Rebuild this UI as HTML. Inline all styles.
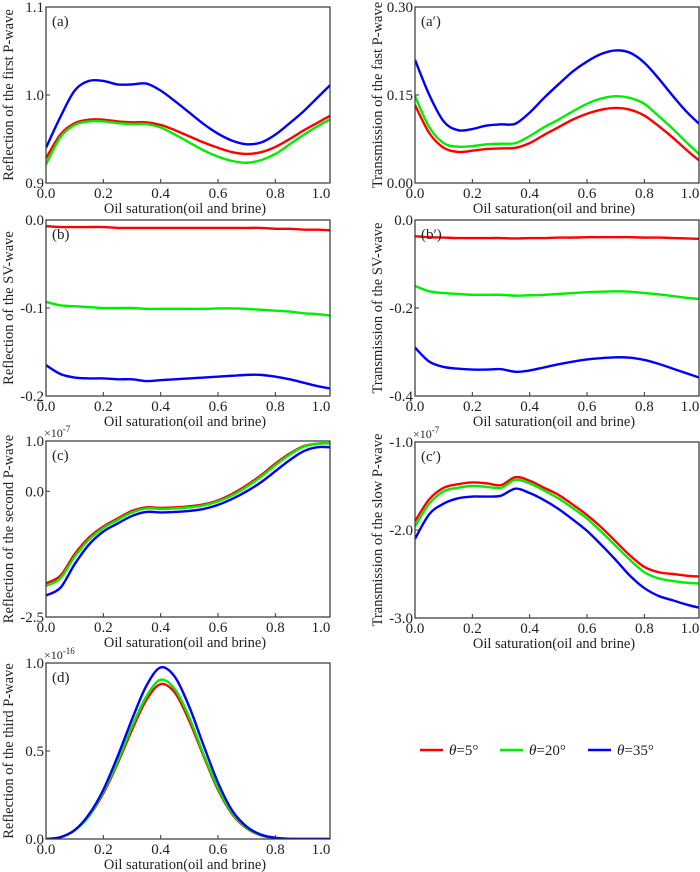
<!DOCTYPE html>
<html><head><meta charset="utf-8"><style>
body{margin:0;background:#fff;}
svg{display:block;font-family:"Liberation Serif",serif;}
</style></head><body>
<svg id="fig" width="700" height="872" viewBox="0 0 700 872"></svg>
<script>
const xVals=[0,0.05,0.1,0.15,0.2,0.25,0.3,0.35,0.4,0.45,0.5,0.55,0.6,0.65,0.7,0.75,0.8,0.85,0.9,0.95,1.0];
const xTicks=[0,0.2,0.4,0.6,0.8,1.0];
const xTickLabels=["0.0","0.2","0.4","0.6","0.8","1.0"];

const aRed=[0.928,0.955,0.968,0.972,0.972,0.970,0.969,0.969,0.966,0.960,0.953,0.946,0.940,0.935,0.933,0.935,0.941,0.950,0.960,0.969,0.978];
const aGreen=[0.921,0.952,0.966,0.970,0.970,0.968,0.967,0.967,0.963,0.955,0.946,0.937,0.930,0.925,0.923,0.926,0.933,0.944,0.955,0.965,0.974];
const aBlue=[0.940,0.975,1.005,1.016,1.016,1.012,1.012,1.013,1.005,0.993,0.980,0.967,0.956,0.948,0.944,0.946,0.955,0.968,0.982,0.998,1.014];
const aTicks=[0.9,1.0,1.1]; const aTickLabels=["0.9","1.0","1.1"];

const apRed=[0.133,0.085,0.060,0.053,0.055,0.058,0.059,0.060,0.068,0.082,0.095,0.108,0.118,0.125,0.128,0.125,0.115,0.097,0.077,0.055,0.035];
const apGreen=[0.148,0.095,0.068,0.062,0.063,0.066,0.067,0.068,0.080,0.095,0.108,0.122,0.135,0.144,0.148,0.145,0.135,0.114,0.092,0.068,0.045];
const apBlue=[0.210,0.150,0.105,0.090,0.092,0.098,0.100,0.101,0.120,0.145,0.168,0.190,0.207,0.220,0.226,0.222,0.205,0.178,0.148,0.120,0.097];
const apTicks=[0,0.15,0.30]; const apTickLabels=["0.00","0.15","0.30"];

const bRed=[-0.007,-0.008,-0.008,-0.008,-0.008,-0.009,-0.009,-0.009,-0.009,-0.009,-0.009,-0.009,-0.009,-0.009,-0.009,-0.009,-0.010,-0.010,-0.011,-0.011,-0.012];
const bGreen=[-0.093,-0.097,-0.098,-0.099,-0.100,-0.100,-0.100,-0.101,-0.101,-0.101,-0.101,-0.101,-0.1005,-0.1005,-0.101,-0.102,-0.103,-0.104,-0.106,-0.107,-0.109];
const bBlue=[-0.165,-0.175,-0.179,-0.180,-0.180,-0.181,-0.181,-0.183,-0.182,-0.181,-0.180,-0.179,-0.178,-0.177,-0.176,-0.176,-0.178,-0.181,-0.185,-0.189,-0.192];
const bTicks=[-0.2,-0.1,0]; const bTickLabels=["-0.2","-0.1","0.0"];

const bpRed=[-0.037,-0.039,-0.040,-0.041,-0.041,-0.041,-0.041,-0.042,-0.041,-0.041,-0.040,-0.040,-0.039,-0.039,-0.039,-0.039,-0.040,-0.040,-0.041,-0.042,-0.043];
const bpGreen=[-0.150,-0.162,-0.166,-0.168,-0.170,-0.170,-0.170,-0.172,-0.171,-0.170,-0.168,-0.166,-0.164,-0.163,-0.162,-0.163,-0.166,-0.169,-0.173,-0.177,-0.180];
const bpBlue=[-0.290,-0.322,-0.334,-0.338,-0.340,-0.340,-0.339,-0.345,-0.342,-0.335,-0.328,-0.322,-0.317,-0.314,-0.312,-0.313,-0.318,-0.327,-0.338,-0.349,-0.360];
const bpTicks=[-0.4,-0.2,0]; const bpTickLabels=["-0.4","-0.2","0.0"];

const cRed=[-1.83,-1.68,-1.25,-0.92,-0.70,-0.54,-0.39,-0.32,-0.33,-0.32,-0.30,-0.26,-0.18,-0.05,0.12,0.32,0.55,0.75,0.90,0.95,0.95];
const cGreen=[-1.88,-1.73,-1.30,-0.96,-0.73,-0.57,-0.42,-0.34,-0.35,-0.34,-0.32,-0.28,-0.20,-0.08,0.09,0.29,0.52,0.73,0.89,0.95,0.95];
const cBlue=[-2.07,-1.92,-1.45,-1.06,-0.80,-0.64,-0.49,-0.41,-0.42,-0.41,-0.39,-0.35,-0.27,-0.15,0.00,0.18,0.40,0.62,0.80,0.88,0.87];
const cTicks=[-2.5,0,1.0]; const cTickLabels=["-2.5","0.0","1.0"];

const cpRed=[-1.90,-1.65,-1.52,-1.48,-1.46,-1.47,-1.49,-1.40,-1.44,-1.52,-1.60,-1.71,-1.83,-1.97,-2.13,-2.29,-2.42,-2.48,-2.50,-2.52,-2.53];
const cpGreen=[-1.96,-1.70,-1.56,-1.52,-1.50,-1.51,-1.52,-1.43,-1.47,-1.55,-1.64,-1.75,-1.87,-2.02,-2.18,-2.34,-2.48,-2.55,-2.58,-2.60,-2.61];
const cpBlue=[-2.10,-1.82,-1.70,-1.64,-1.62,-1.62,-1.61,-1.53,-1.58,-1.66,-1.76,-1.88,-2.01,-2.17,-2.34,-2.52,-2.66,-2.75,-2.80,-2.85,-2.89];
const cpTicks=[-3.0,-2.0,-1.0]; const cpTickLabels=["-3.0","-2.0","-1.0"];

const dRed=[0,0.01,0.05,0.13,0.26,0.43,0.62,0.79,0.88,0.83,0.67,0.47,0.28,0.14,0.06,0.02,0.005,0.001,0,0,0];
const dGreen=[0,0.01,0.05,0.13,0.27,0.44,0.64,0.81,0.905,0.85,0.69,0.48,0.29,0.145,0.062,0.021,0.005,0.001,0,0,0];
const dBlue=[0,0.01,0.05,0.14,0.28,0.47,0.68,0.87,0.975,0.92,0.75,0.53,0.32,0.16,0.07,0.025,0.007,0.001,0,0,0];
const dTicks=[0,0.5,1.0]; const dTickLabels=["0.0","0.5","1.0"];

const NS="http://www.w3.org/2000/svg";
const svg=document.getElementById('fig');
function mk(tag,attrs,parent){const e=document.createElementNS(NS,tag);for(const k in attrs)e.setAttribute(k,attrs[k]);(parent||svg).appendChild(e);return e;}
const COLORS=["#ff0000","#00ee00","#0000ff"];
const NAMES=["theta-5","theta-20","theta-35"];
let clipId=0;
function panel(id,left,top,ymin,ymax,yt,ytl,series,ytitle,tag,mult){
  const W=284,H=176,XS=286.7,bottom=top+H;
  const g=mk('g',{});
  
  
  const sx=v=>left+v*XS;
  const sy=v=>bottom-(v-ymin)/(ymax-ymin)*H;
  clipId++;
  const cp=mk('clipPath',{id:'cp'+clipId},g);
  mk('rect',{x:left,y:top,width:W,height:H},cp);
  series.forEach((s,i)=>{
    const pts=xVals.map((x,j)=>[sx(x),sy(s[j])]);
    let d='M'+pts[0][0].toFixed(2)+','+pts[0][1].toFixed(2);
    for(let j=0;j<pts.length-1;j++){
      const p0=pts[Math.max(0,j-1)],p1=pts[j],p2=pts[j+1],p3=pts[Math.min(pts.length-1,j+2)];
      const c1=[p1[0]+(p2[0]-p0[0])/6,p1[1]+(p2[1]-p0[1])/6];
      const c2=[p2[0]-(p3[0]-p1[0])/6,p2[1]-(p3[1]-p1[1])/6];
      d+='C'+c1[0].toFixed(2)+','+c1[1].toFixed(2)+' '+c2[0].toFixed(2)+','+c2[1].toFixed(2)+' '+p2[0].toFixed(2)+','+p2[1].toFixed(2);
    }
    const p=mk('path',{d:d,fill:'none',stroke:COLORS[i],'stroke-width':2.4,'clip-path':'url(#cp'+clipId+')'},g);
    
    
  });
  const box=mk('rect',{x:left,y:top,width:W,height:H,fill:'none',stroke:'#333','stroke-width':1.2},g);
  
  
  xTicks.forEach((t,i)=>{
    const x=sx(t);
    if(x<left+W-1) mk('line',{x1:x,y1:bottom,x2:x,y2:bottom-4,stroke:'#333'},g);
    const tx=mk('text',{x:Math.min(x,left+W-9),y:bottom+15,'font-size':15,'text-anchor':'middle',fill:'#222'},g);
    tx.textContent=xTickLabels[i];
    
    
  });
  yt.forEach((t,i)=>{
    const y=sy(t);
    mk('line',{x1:left,y1:y,x2:left+4,y2:y,stroke:'#333'},g);
    const tx=mk('text',{x:left-2,y:y+5,'font-size':15,'text-anchor':'end',fill:'#222'},g);
    tx.textContent=ytl[i];
    
    
  });
  const xt=mk('text',{x:left+W/2-3,y:bottom+30,'font-size':14.5,'text-anchor':'middle',fill:'#222'},g);
  xt.textContent='Oil saturation(oil and brine)';
  
  
  const ycx=left-33,ycy=top+H/2;
  const ytt=mk('text',{x:ycx,y:ycy,'font-size':14.5,'text-anchor':'middle',fill:'#222',transform:'rotate(-90 '+ycx+' '+ycy+')'},g);
  ytt.textContent=ytitle;
  
  
  const lb=mk('text',{x:left+6,y:top+19,'font-size':15,fill:'#222'},g);
  lb.textContent=tag;
  
  
  if(mult){
    const m=mk('text',{x:left-2,y:top-4,'font-size':12,fill:'#222'},g);
    m.textContent='×10';
    
    
    const e=mk('tspan',{dy:-5,'font-size':9},m);
    e.textContent=mult;
  }
}
panel('a',46,7,0.9,1.1,aTicks,aTickLabels,[aRed,aGreen,aBlue],'Reflection of the first P-wave','(a)');
panel('a-prime',415,7,0,0.30,apTicks,apTickLabels,[apRed,apGreen,apBlue],'Transmission of the fast P-wave','(a′)');
panel('b',46,220,-0.2,0,bTicks,bTickLabels,[bRed,bGreen,bBlue],'Reflection of the SV-wave','(b)');
panel('b-prime',415,220,-0.4,0,bpTicks,bpTickLabels,[bpRed,bpGreen,bpBlue],'Transmission of the SV-wave','(b′)');
panel('c',46,441,-2.5,1.0,cTicks,cTickLabels,[cRed,cGreen,cBlue],'Reflection of the second P-wave','(c)','-7');
panel('c-prime',415,442,-3.0,-1.0,cpTicks,cpTickLabels,[cpRed,cpGreen,cpBlue],'Transmission of the slow P-wave','(c′)','-7');
panel('d',46,663,0,1.0,dTicks,dTickLabels,[dRed,dGreen,dBlue],'Reflection of the third P-wave','(d)','-16');

const legendLabels=["5°","20°","35°"];
const legendX=[420,500,588];
const lg=mk('g',{});


legendLabels.forEach((l,i)=>{
  const e=mk('g',{},lg);
  
  
  mk('line',{x1:legendX[i],y1:750,x2:legendX[i]+23,y2:750,stroke:COLORS[i],'stroke-width':2.5},e);
  const t=mk('text',{x:legendX[i]+29,y:755,'font-size':15,fill:'#222'},e);
  const th=mk('tspan',{'font-style':'italic'},t); th.textContent='θ';
  const r=mk('tspan',{},t); r.textContent='='+l;
});
</script>
</body></html>
